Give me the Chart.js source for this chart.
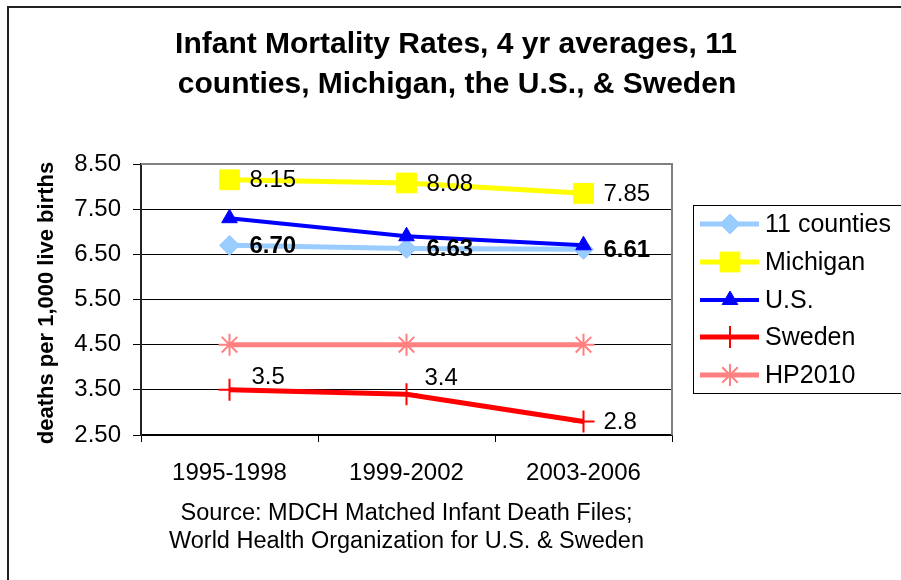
<!DOCTYPE html>
<html>
<head>
<meta charset="utf-8">
<script src="https://cdn.jsdelivr.net/npm/chart.js@4.4.0/dist/chart.umd.min.js"></script>
<style>
  html, body { margin: 0; padding: 0; background: #fff; }
  #wrap { width: 901px; height: 580px; }
</style>
</head>
<body>
<div id="wrap"><canvas id="myChart" width="901" height="580"></canvas></div>
<script>
// data
const periods = ["1995-1998", "1999-2002", "2003-2006"];
const counties11 = [6.70, 6.63, 6.61];
const michigan = [8.15, 8.08, 7.85];
const us = [7.3, 6.9, 6.7];
const sweden = [3.5, 3.4, 2.8];
const hp2010 = [4.5, 4.5, 4.5];
const yTicks = [2.5, 3.5, 4.5, 5.5, 6.5, 7.5, 8.5];

const titleLines = ["Infant Mortality Rates, 4 yr averages, 11", "counties, Michigan, the U.S., & Sweden"];
const sourceLines = ["Source: MDCH Matched Infant Death Files;", "World Health Organization for U.S. & Sweden"];
const yTitle = "deaths per 1,000 live births";

const FONT = '"Liberation Sans", Arial, sans-serif';

function makeSet(label, data, color, width, style, radius, ptBorder, order, extra) {
  return Object.assign({
    label: label,
    data: data,
    borderColor: color,
    backgroundColor: color,
    borderWidth: width,
    pointStyle: style,
    pointRadius: radius,
    pointHoverRadius: radius,
    pointBackgroundColor: color,
    pointBorderColor: color,
    pointBorderWidth: ptBorder,
    tension: 0,
    fill: false,
    order: order,
  }, extra || {});
}

const datasets = [
  makeSet("11 counties", counties11, "#99ccff", 5, "rectRot", 10, 1, 5,
    { labelFont: "bold 24px " + FONT, labelDigits: 2, labelOffsets: [[20, 1], [20, 1], [20, 1]] }),
  makeSet("Michigan", michigan, "#ffff00", 5, "rect", 14, 1, 4,
    { labelFont: "24px " + FONT, labelDigits: 2, labelOffsets: [[20, 1], [20, 1], [20, 1]] }),
  makeSet("U.S.", us, "#0000ff", 4, "triangle", 9, 1, 3),
  makeSet("Sweden", sweden, "#ff0000", 5, "cross", 11, 2, 2,
    { labelFont: "24px " + FONT, labelDigits: 1, labelOffsets: [[22, -12], [18, -16], [20, 1]] }),
  makeSet("HP2010", hp2010, "#ff8080", 5, "star", 11, 2, 1),
];

const decorPlugin = {
  id: "decor",
  beforeDraw(chart) {
    const ctx = chart.ctx;
    ctx.save();
    ctx.fillStyle = "#fff";
    ctx.fillRect(0, 0, chart.width, chart.height);
    ctx.restore();
  },
  afterDatasetsDraw(chart) {
    const ctx = chart.ctx;
    ctx.save();
    ctx.fillStyle = "#000";
    ctx.textAlign = "left";
    ctx.textBaseline = "middle";
    chart.data.datasets.forEach((ds, i) => {
      if (!ds.labelFont) return;
      const meta = chart.getDatasetMeta(i);
      ctx.font = ds.labelFont;
      meta.data.forEach((pt, j) => {
        const off = ds.labelOffsets[j];
        ctx.fillText(ds.data[j].toFixed(ds.labelDigits), pt.x + off[0], pt.y + off[1]);
      });
    });
    ctx.restore();
  },
  afterDraw(chart) {
    const ctx = chart.ctx;
    const a = chart.chartArea;
    ctx.save();

    // outer frame (left and top edges visible)
    ctx.strokeStyle = "#222";
    ctx.lineWidth = 2;
    ctx.beginPath();
    ctx.moveTo(8, chart.height);
    ctx.lineTo(8, 7);
    ctx.lineTo(chart.width, 7);
    ctx.stroke();

    // plot area top and right border
    ctx.strokeStyle = "#808080";
    ctx.lineWidth = 2;
    ctx.beginPath();
    ctx.moveTo(a.left, a.top);
    ctx.lineTo(a.right, a.top);
    ctx.lineTo(a.right, a.bottom);
    ctx.stroke();

    // title
    ctx.fillStyle = "#000";
    ctx.textAlign = "center";
    ctx.textBaseline = "alphabetic";
    ctx.font = "bold 30px " + FONT;
    ctx.fillText(titleLines[0], 456, 53);
    ctx.fillText(titleLines[1], 457, 93);

    // source note under the axis
    const mid = (a.left + a.right) / 2;
    ctx.font = "23.5px " + FONT;
    ctx.textBaseline = "middle";
    ctx.fillText(sourceLines[0], mid, 514);
    ctx.fillText(sourceLines[1], mid, 542);

    // y axis title
    ctx.save();
    ctx.translate(47, 303);
    ctx.rotate(-Math.PI / 2);
    ctx.font = "bold 22px " + FONT;
    ctx.fillText(yTitle, 0, 0);
    ctx.restore();

    // legend
    const lx = 693, ly = 205, lw = 210, lh = 188;
    ctx.strokeStyle = "#000";
    ctx.lineWidth = 1;
    ctx.strokeRect(lx + 0.5, ly + 0.5, lw, lh);
    const rowY = [224, 262, 300, 337, 375];
    chart.data.datasets.forEach((ds, i) => {
      const y = rowY[i];
      ctx.strokeStyle = ds.borderColor;
      ctx.lineWidth = ds.borderWidth;
      ctx.beginPath();
      ctx.moveTo(700, y);
      ctx.lineTo(759, y);
      ctx.stroke();
      ctx.fillStyle = ds.pointBackgroundColor;
      ctx.strokeStyle = ds.pointBorderColor;
      ctx.lineWidth = ds.pointBorderWidth;
      Chart.helpers.drawPoint(ctx, {
        pointStyle: ds.pointStyle,
        radius: ds.pointRadius,
        rotation: 0,
        borderWidth: ds.pointBorderWidth,
      }, 730, y);
      ctx.fillStyle = "#000";
      ctx.font = "25px " + FONT;
      ctx.textAlign = "left";
      ctx.textBaseline = "middle";
      ctx.fillText(ds.label, 765, y + 1);
    });

    ctx.restore();
  },
};

new Chart("myChart", {
  type: "line",
  data: { labels: periods, datasets: datasets },
  options: {
    responsive: false,
    animation: false,
    devicePixelRatio: 1,
    layout: { padding: { top: 164, right: 229, bottom: 0, left: 0 } },
    plugins: {
      legend: { display: false },
      title: { display: false },
      tooltip: { enabled: false },
    },
    scales: {
      x: {
        offset: true,
        grid: { offset: true, drawOnChartArea: false, tickLength: 7, color: "#000", lineWidth: 1 },
        border: { color: "#000", width: 1.5 },
        ticks: { color: "#000", font: { family: FONT, size: 24 }, padding: 17, maxRotation: 0 },
        afterFit(scale) { scale.height = 145; },
      },
      y: {
        min: 2.5,
        max: 8.5,
        afterBuildTicks(scale) { scale.ticks = yTicks.map((v) => ({ value: v })); },
        grid: { color: "#000", lineWidth: 1, tickLength: 8 },
        border: { color: "#222", width: 2 },
        ticks: {
          color: "#000",
          font: { family: FONT, size: 24 },
          padding: 12,
          callback: (v) => Number(v).toFixed(2),
        },
        afterFit(scale) { scale.width = 141; },
      },
    },
  },
  plugins: [decorPlugin],
});
</script>
</body>
</html>
